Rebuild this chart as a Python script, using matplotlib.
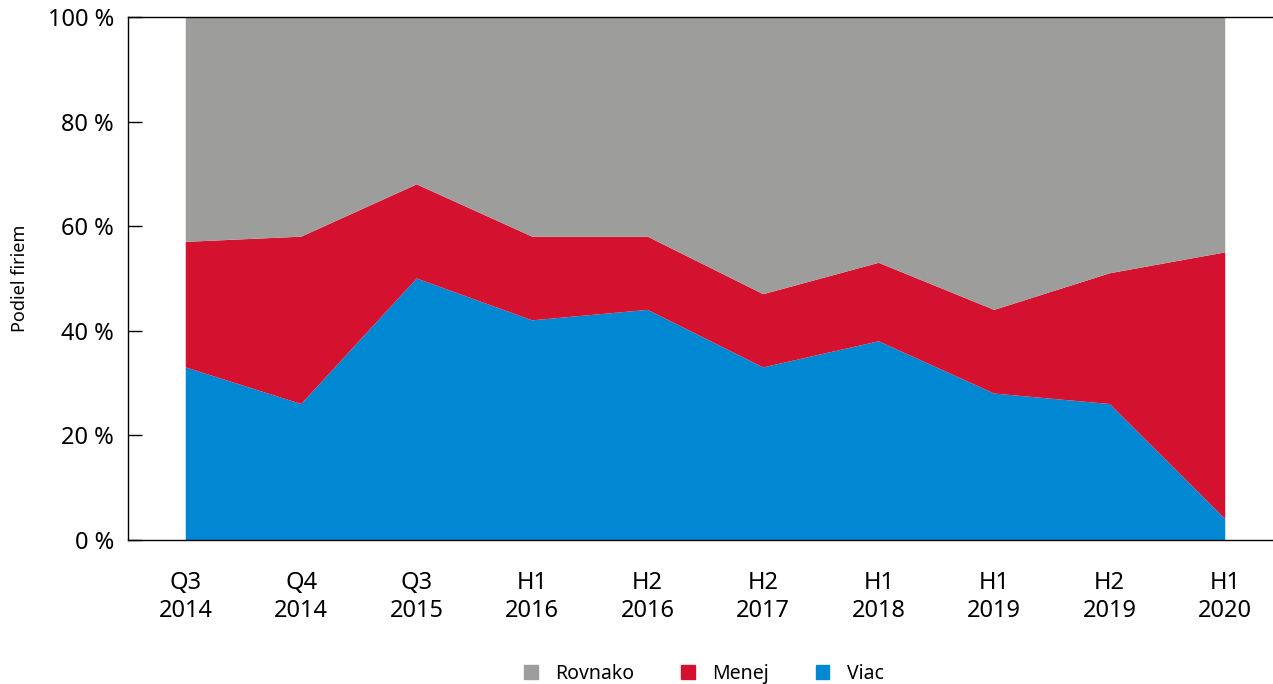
import numpy as np
import matplotlib.pyplot as plt
from matplotlib.patches import Patch

plt.rcParams['font.family'] = ['Noto Sans', 'DejaVu Sans']

periods = ['Q3\n2014', 'Q4\n2014', 'Q3\n2015', 'H1\n2016', 'H2\n2016',
           'H2\n2017', 'H1\n2018', 'H1\n2019', 'H2\n2019', 'H1\n2020']
viac = [33, 26, 50, 42, 44, 33, 38, 28, 26, 4]
menej = [24, 32, 18, 16, 14, 14, 15, 16, 25, 51]
rovnako = [43, 42, 32, 42, 42, 53, 47, 56, 49, 45]

c_gray = '#9d9d9b'
c_red = '#d51130'
c_blue = '#0089d2'

fig = plt.figure(figsize=(12.73, 6.84), dpi=100)
ax = fig.add_axes([128 / 1273, 1 - 540 / 684, 1155 / 1273, 523 / 684])

x = np.arange(len(periods))
ax.stackplot(x, viac, menej, rovnako, colors=[c_blue, c_red, c_gray], linewidth=0)

ax.set_xlim(-0.5, len(periods) - 0.5)
ax.set_ylim(0, 100)
ax.set_yticks([0, 20, 40, 60, 80, 100])
ax.set_yticklabels([f'{v} %' for v in range(0, 101, 20)], fontsize=17)
ax.set_xticks(x)
ax.set_xticklabels(periods, fontsize=17, linespacing=1.25)
ax.tick_params(axis='y', direction='in', length=10, width=1, pad=10)
ax.tick_params(axis='x', length=0, pad=22)
for s in ax.spines.values():
    s.set_linewidth(1)
ax.spines['right'].set_visible(False)

ax.set_ylabel('Podiel firiem', fontsize=13)
ax.yaxis.set_label_coords(-0.086, 0.5)

handles = [Patch(color=c_gray, label='Rovnako'),
           Patch(color=c_red, label='Menej'),
           Patch(color=c_blue, label='Viac')]
fig.legend(handles=handles, loc='lower center', ncol=3, frameon=False,
           fontsize=14, bbox_to_anchor=(0.553, -0.025), handlelength=0.7,
           handleheight=0.7, columnspacing=2.4, handletextpad=0.9)

fig.savefig('out.png', dpi=100)
